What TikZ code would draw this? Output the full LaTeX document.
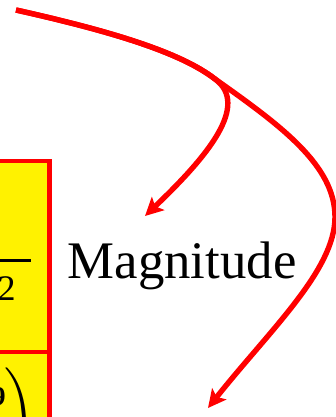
\documentclass[tikz,border=0pt]{standalone}
\usepackage{fontspec}
\setmainfont{Liberation Serif}
\usepackage{graphicx}
\usetikzlibrary{arrows.meta}
\tikzset{
  redarrow/.style={draw=red, line width=5.4pt, -{Stealth[length=18pt,width=18pt,inset=4pt]}},
  cellbox/.style={fill=yellow, draw=red, line width=4.4pt},
  glyph/.style={inner sep=0pt, anchor=base west},
}
\begin{document}
\begin{tikzpicture}[x=1pt,y=-1pt]
\useasboundingbox (0,0) rectangle (336,417);
\begin{scope}
  \clip (0,0) rectangle (336,417);
  \filldraw[cellbox] (-10,161) rectangle (49.5,352);
  \filldraw[cellbox] (-10,352) rectangle (49.5,440);
  \draw[line width=3pt] (-5,260) -- (31,260);
  \node[glyph, font=\fontsize{36}{40}\selectfont] (two) at (-2.5,300.5) {2};
  \node[glyph, font=\fontsize{27}{30}\selectfont\bfseries] (nine) at (-8,405) {9};
  \node[inner sep=0pt, anchor=north west] (par) at (4,368) {\scalebox{4}{$\Bigg)$}};
\end{scope}
\node[glyph, font=\fontsize{52.8}{60}\selectfont] (mag) at (67.5,278) {Magnitude};
\coordinate (s) at (16,10);
\coordinate (b) at (215,79);
\coordinate (m) at (335,217);
\coordinate (t1) at (145,216);
\coordinate (t2) at (208,408);
\draw[redarrow] (s) .. controls (110,31) and (180,52) .. (b) .. controls (250,105) and (208,156) .. (t1);
\draw[redarrow] (s) .. controls (110,31) and (180,52) .. (b) .. controls (280,125) and (335,165) .. (m) .. controls (335,270) and (270,330) .. (t2);
\end{tikzpicture}
\end{document}
